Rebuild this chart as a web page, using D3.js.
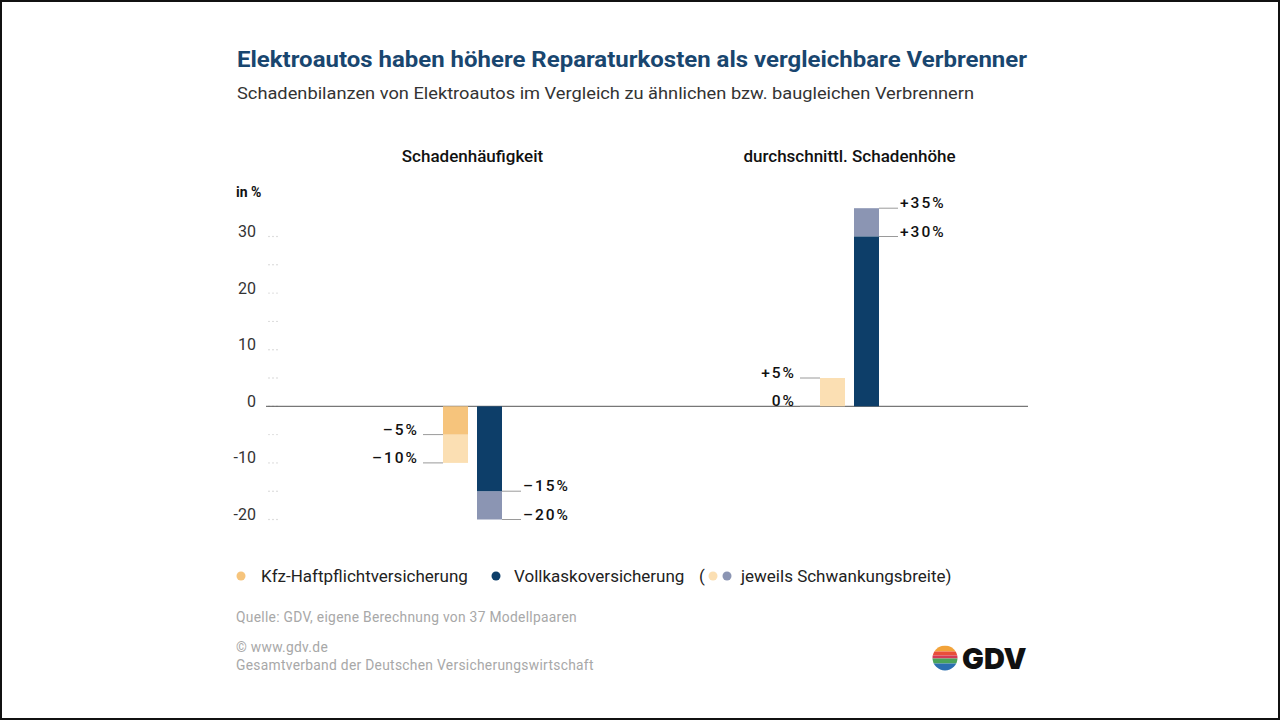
<!DOCTYPE html>
<html><head><meta charset="utf-8">
<script src="https://cdn.jsdelivr.net/npm/d3@7"></script>
<style>
html,body{margin:0;padding:0;background:#fff;}
svg{display:block;font-family:Roboto,"Liberation Sans",sans-serif;}
</style></head>
<body><svg id="c" width="1280" height="720"></svg>
<script>
// ---- data ----
const groups = ["Schadenhäufigkeit", "durchschnittl. Schadenhöhe"];
const series = ["Kfz-Haftpflichtversicherung", "Vollkaskoversicherung"];
// core value (fixed part) per group, per series
const coreKfz = [-5, 0];
const coreVoll = [-15, 30];
// end of fluctuation range per group, per series
const rangeKfz = [-10, 5];
const rangeVoll = [-20, 35];
const tickValues = [-20, -15, -10, -5, 0, 5, 10, 15, 20, 25, 30];
const tickLabels = ["-20", "", "-10", "", "0", "", "10", "", "20", "", "30"];
const yDomain = [-20, 35];

const title = "Elektroautos haben höhere Reparaturkosten als vergleichbare Verbrenner";
const subtitle = "Schadenbilanzen von Elektroautos im Vergleich zu ähnlichen bzw. baugleichen Verbrennern";
const sourceLines = ["Quelle: GDV, eigene Berechnung von 37 Modellpaaren", "© www.gdv.de", "Gesamtverband der Deutschen Versicherungswirtschaft"];

const colors = {
  kfz: "#f6c47c", kfzRange: "#fbdfb3",
  voll: "#0d3e69", vollRange: "#8b95b3"
};

const svg = d3.select("#c");
svg.append("rect").attr("x",1).attr("y",1).attr("width",1278).attr("height",718)
  .attr("fill","#fff").attr("stroke","#111").attr("stroke-width",2);

svg.append("text").attr("x",237).attr("y",67).text(title)
  .attr("font-size",21.5).attr("font-weight",700).attr("fill","#19466f")
  .attr("textLength",790).attr("lengthAdjust","spacingAndGlyphs");
svg.append("text").attr("x",237).attr("y",99).text(subtitle)
  .attr("font-size",17).attr("fill","#333")
  .attr("textLength",737).attr("lengthAdjust","spacingAndGlyphs");

// scales
const y = d3.scaleLinear().domain(yDomain).range([519.5, 208.2]);
const x0 = d3.scaleBand().domain(groups).range([284, 1038]).padding(0);
const x1 = d3.scaleBand().domain(series).range([-29.5, 29.5]).paddingInner(0.265);

// y axis labels
const axis = d3.axisLeft(y).tickValues(tickValues).tickSize(0).tickPadding(0)
  .tickFormat((d,i)=>tickLabels[i]);
const ag = svg.append("g").attr("transform","translate(256,0)").call(axis);
ag.select(".domain").remove();
ag.selectAll("text").attr("font-size",16).attr("fill","#333")
  .attr("font-family","Roboto, sans-serif").attr("dy","-0.0em");
// dotted tick marks
tickValues.forEach(v=>{
  [269,273,277].forEach(cx=>{
    svg.append("circle").attr("cx",cx).attr("cy",y(v)).attr("r",0.7).attr("fill","#c8c8c8");
  });
});
svg.append("text").attr("x",236).attr("y",197).text("in %")
  .attr("font-size",14).attr("font-weight",700).attr("fill","#111");

// group headings
groups.forEach(g=>{
  svg.append("text").attr("x",x0(g)+x0.bandwidth()/2).attr("y",162)
    .attr("text-anchor","middle").text(g)
    .attr("font-size",17).attr("font-weight",500).attr("fill","#111");
});

// zero line
svg.append("line").attr("x1",266).attr("x2",1028).attr("y1",y(0)).attr("y2",y(0))
  .attr("stroke","#555").attr("stroke-width",1);

// bars
const bars = [];
groups.forEach((g,i)=>{
  bars.push({g, s:series[0], core:coreKfz[i], range:rangeKfz[i], c:colors.kfz, cr:colors.kfzRange, side:"left"});
  bars.push({g, s:series[1], core:coreVoll[i], range:rangeVoll[i], c:colors.voll, cr:colors.vollRange, side:"right"});
});
const bx = d=> x0(d.g)+x0.bandwidth()/2 + x1(d.s);
const bg = svg.append("g");
bars.forEach(d=>{
  const xx = bx(d), w = x1.bandwidth();
  // range segment
  bg.append("rect").attr("x",xx).attr("width",w)
    .attr("y",y(Math.max(d.core,d.range))).attr("height",Math.abs(y(d.core)-y(d.range)))
    .attr("fill",d.cr);
  // core segment
  bg.append("rect").attr("x",xx).attr("width",w)
    .attr("y",y(Math.max(0,d.core))).attr("height",Math.abs(y(0)-y(d.core)))
    .attr("fill",d.c);
});

// annotations
const fmt = v => (v>0?"+":v<0?"\u2013":"") + Math.abs(v) + "%";
bars.forEach(d=>{
  const xx = bx(d), w = x1.bandwidth();
  [d.core, d.range].forEach(v=>{
    const yy = y(v);
    if(d.side==="left"){
      svg.append("line").attr("x1",xx-20).attr("x2",xx).attr("y1",yy).attr("y2",yy)
        .attr("stroke","#9a9a9a").attr("stroke-width",1);
      svg.append("text").attr("x",xx-24).attr("y",yy).attr("text-anchor","end")
        .text(fmt(v)).attr("font-size",15.5).attr("font-weight",500)
        .attr("letter-spacing",2).attr("fill","#111");
    } else {
      svg.append("line").attr("x1",xx+w).attr("x2",xx+w+19).attr("y1",yy).attr("y2",yy)
        .attr("stroke","#9a9a9a").attr("stroke-width",1);
      svg.append("text").attr("x",xx+w+21).attr("y",yy).attr("text-anchor","start")
        .text(fmt(v)).attr("font-size",15.5).attr("font-weight",500)
        .attr("letter-spacing",2).attr("fill","#111");
    }
  });
});

// legend
const ly = 576;
const lg = svg.append("g").attr("font-size",17).attr("fill","#222");
lg.append("circle").attr("cx",241).attr("cy",ly).attr("r",4.5).attr("fill",colors.kfz);
lg.append("text").attr("x",261).attr("y",ly+6).text(series[0]);
lg.append("circle").attr("cx",496).attr("cy",ly).attr("r",4.5).attr("fill",colors.voll);
lg.append("text").attr("x",514).attr("y",ly+6).text(series[1]);
lg.append("text").attr("x",699).attr("y",ly+6).text("(");
lg.append("circle").attr("cx",713).attr("cy",ly).attr("r",4.5).attr("fill",colors.kfzRange);
lg.append("circle").attr("cx",727).attr("cy",ly).attr("r",4.5).attr("fill",colors.vollRange);
lg.append("text").attr("x",741).attr("y",ly+6).text("jeweils Schwankungsbreite)");

// source
[[622,0],[652,1],[670,2]].forEach(([yy,i])=>{
  svg.append("text").attr("x",236).attr("y",yy).text(sourceLines[i])
    .attr("font-size",13.8).attr("fill","#a8a8a8").attr("letter-spacing",0.3);
});

// logo
const defs = svg.append("defs");
defs.append("clipPath").attr("id","lc").append("circle").attr("cx",945).attr("cy",658).attr("r",12.5);
const logo = svg.append("g").attr("clip-path","url(#lc)");
[["#f2a33a",645.5,6],["#e94e3a",651.5,4],["#d43a57",655.5,3],["#4aa35a",658.5,5],["#2b6fb0",663.5,8]].forEach(([c,yy,h])=>{
  logo.append("rect").attr("x",932).attr("y",yy).attr("width",26).attr("height",h).attr("fill",c);
});
svg.append("text").attr("x",962).attr("y",669).text("GDV")
  .attr("font-size",29).attr("font-weight",900).attr("fill","#111")
  .attr("font-family","Inter, Roboto, sans-serif");
</script></body></html>
